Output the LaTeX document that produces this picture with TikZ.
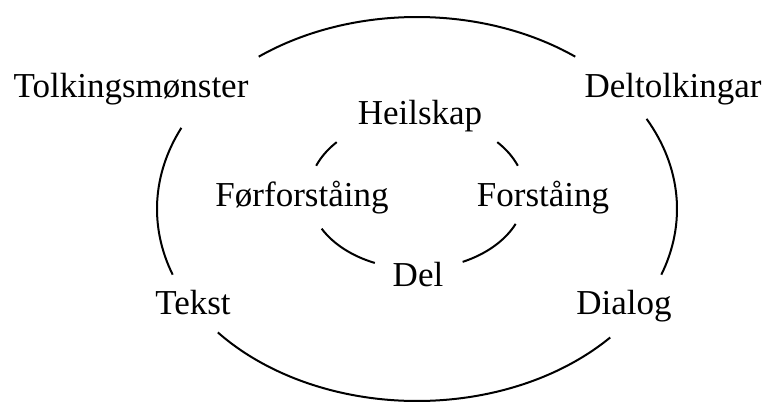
\documentclass[tikz,border=0pt]{standalone}
\usepackage{fontspec}
\setmainfont{Liberation Serif}
\begin{document}
\begin{tikzpicture}[x=1pt,y=1pt,
  lbl/.style={anchor=base,inner sep=0pt,font=\fontsize{35}{40}\selectfont},
  ring/.style={line width=2pt,line cap=butt}]
\useasboundingbox (0,0) rectangle (763,403);
% centres of the two rings
\coordinate (outer) at (417,194);
\coordinate (inner) at (417,210);
% outer ring, broken at the four corner labels
\draw[ring] ([shift={(52.5:260 and 192)}]outer) arc[start angle=52.5,end angle=127.5,x radius=260,y radius=192];
\draw[ring] ([shift={(155:260 and 192)}]outer) arc[start angle=155,end angle=200,x radius=260,y radius=192];
\draw[ring] ([shift={(220:260 and 192)}]outer) arc[start angle=220,end angle=318,x radius=260,y radius=192];
\draw[ring] ([shift={(-20:260 and 192)}]outer) arc[start angle=-20,end angle=28,x radius=260,y radius=192];
% inner ring, broken at the four inner labels
\draw[ring] ([shift={(138:108 and 76)}]inner) arc[start angle=138,end angle=159,x radius=108,y radius=76];
\draw[ring] ([shift={(21:108 and 76)}]inner) arc[start angle=21,end angle=42,x radius=108,y radius=76];
\draw[ring] ([shift={(208:108 and 76)}]inner) arc[start angle=208,end angle=247,x radius=108,y radius=76];
\draw[ring] ([shift={(-65:108 and 76)}]inner) arc[start angle=-65,end angle=-24,x radius=108,y radius=76];
% labels
\node[lbl] (tolk)  at (131,305) {Tolkingsmønster};
\node[lbl] (delt)  at (673,305) {Deltolkingar};
\node[lbl] (heil)  at (420,278) {Heilskap};
\node[lbl] (forf)  at (302,196) {Førforståing};
\node[lbl] (forst) at (543,196) {Forståing};
\node[lbl] (del)   at (418,116) {Del};
\node[lbl] (tekst) at (193,88)  {Tekst};
\node[lbl] (dial)  at (624,88)  {Dialog};
\end{tikzpicture}
\end{document}
